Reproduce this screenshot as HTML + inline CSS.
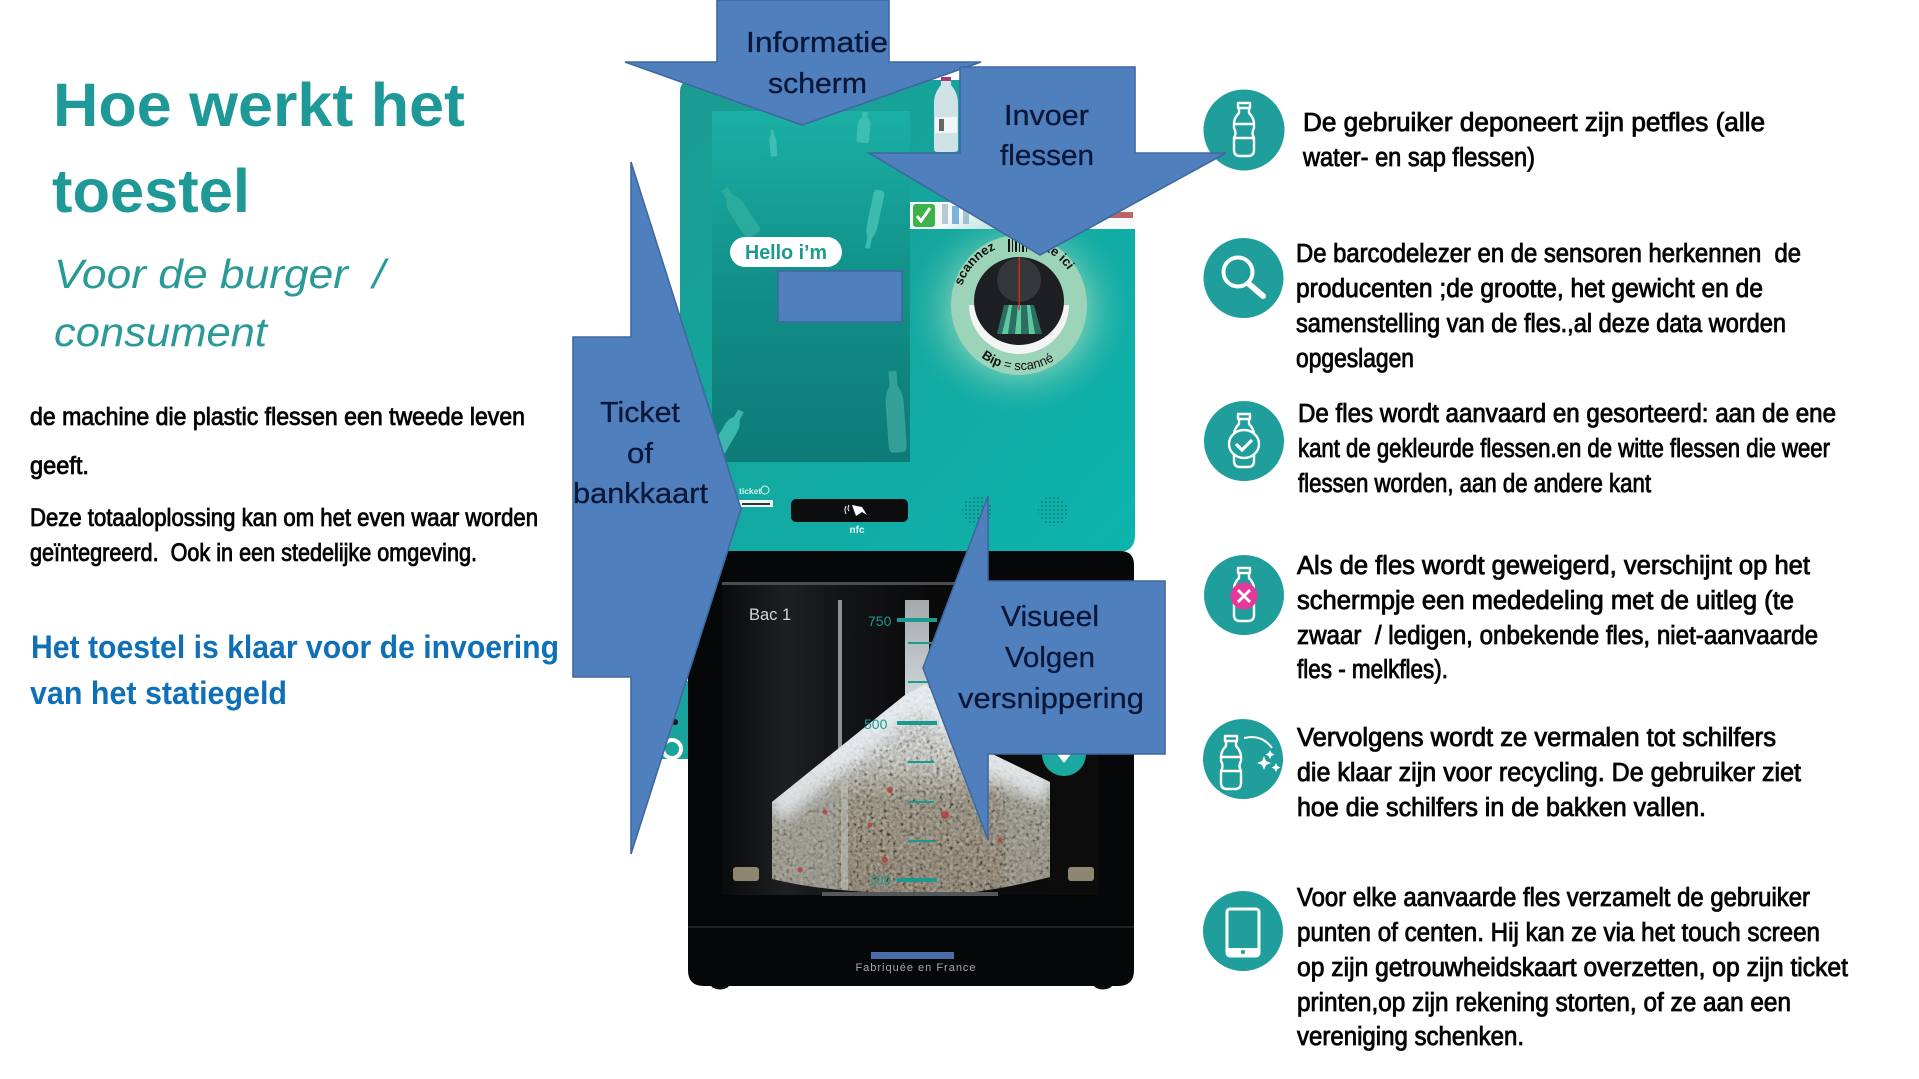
<!DOCTYPE html>
<html lang="nl"><head><meta charset="utf-8"><title>Hoe werkt het toestel</title>
<style>
html,body{margin:0;padding:0;background:#fff;width:1919px;height:1079px;overflow:hidden}
svg{display:block}
text{font-family:"Liberation Sans",sans-serif;white-space:pre}
.t{font-weight:700;font-size:61px;fill:#1f9997}
.s{font-style:italic;font-size:41px;fill:#2a9a98}
.l{font-size:25px;fill:#050505;stroke:#050505;stroke-width:.85}
.h{font-weight:700;font-size:32px;fill:#0f70b7}
.r{font-size:25.5px;fill:#050505;stroke:#050505;stroke-width:.85}
.a{font-size:29px;fill:#0a1738;stroke:#0a1738;stroke-width:.3}
</style></head><body>
<svg width="1919" height="1079" viewBox="0 0 1919 1079" xmlns="http://www.w3.org/2000/svg">
<defs>
<linearGradient id="panel" x1="0" y1="0" x2="1" y2="1"><stop offset="0" stop-color="#1c9a90"/><stop offset=".55" stop-color="#12aaa2"/><stop offset="1" stop-color="#0cb4ae"/></linearGradient>
<linearGradient id="screen" x1="0" y1="0" x2="0" y2="1"><stop offset="0" stop-color="#1ab0a5"/><stop offset=".5" stop-color="#118f88"/><stop offset="1" stop-color="#0d7b77"/></linearGradient>
<radialGradient id="glow" cx=".5" cy=".5" r=".5"><stop offset=".5" stop-color="#9fdcc0" stop-opacity=".7"/><stop offset="1" stop-color="#14a79f" stop-opacity="0"/></radialGradient>
<linearGradient id="pile" x1="0" y1="0" x2="0" y2="1"><stop offset="0" stop-color="#e6eef2"/><stop offset=".35" stop-color="#c3cbcc"/><stop offset=".55" stop-color="#7d7a68"/><stop offset="1" stop-color="#6f6452"/></linearGradient>
<linearGradient id="win" x1="0" y1="0" x2="1" y2="0"><stop offset="0" stop-color="#0a0b0d"/><stop offset=".17" stop-color="#1d1f21"/><stop offset=".3" stop-color="#141517"/><stop offset=".55" stop-color="#0a0a0b"/><stop offset="1" stop-color="#0c0c0d"/></linearGradient>
<linearGradient id="metal" x1="0" y1="0" x2="0" y2="1"><stop offset="0" stop-color="#a4a9ab"/><stop offset="1" stop-color="#d0d7da"/></linearGradient>
<filter id="noise" x="0" y="0" width="100%" height="100%"><feTurbulence type="fractalNoise" baseFrequency=".3" numOctaves="2" seed="7"/><feColorMatrix values="1.3 1.2 0 0 -.75  1.1 1.2 0 0 -.7  .9 1.2 0 0 -.65  0 0 0 0 1"/></filter>
<filter id="soft" x="-20%" y="-20%" width="140%" height="140%"><feGaussianBlur stdDeviation="7"/></filter>
<pattern id="dots" width="4" height="4" patternUnits="userSpaceOnUse"><circle cx="2" cy="2" r="1" fill="#0b7f79"/></pattern>
<clipPath id="pileclip"><path d="M772 802L834 752L905 695L926 684L988 752L1050 782V877Q960 900 911 893Q830 893 772 879Z"/></clipPath>
<g id="bottle" fill="none" stroke="#fff" stroke-width="2.4" stroke-linejoin="round"><path d="M-6-27H6V-22H-6ZM-5-22V-17Q-10-12-10-6V-2Q-7 3-10 8V20Q-10 26-4 26H4Q10 26 10 20V8Q7 3 10-2V-6Q10-12 5-17V-22"/><path d="M-10-6H10M-10 8H10"/></g>
<g id="mini"><path d="M-4-20H4V-12Q9-8 9-2V20Q9 24 5 24H-5Q-9 24-9 20V-2Q-9-8-4-12Z"/></g>
<path id="arc1" d="M962 286A60 60 0 0 1 1076 286"/>
<path id="arc2" d="M975 352A65 65 0 0 0 1065 352"/>
</defs>
<rect width="1919" height="1079" fill="#fff"/>

<!-- Left text -->
<text class="t" x="53" y="126" textLength="412" lengthAdjust="spacingAndGlyphs">Hoe werkt het</text>
<text class="t" x="52" y="212" textLength="198" lengthAdjust="spacingAndGlyphs">toestel</text>
<text class="s" x="54" y="288" textLength="331" lengthAdjust="spacingAndGlyphs">Voor de burger  /</text>
<text class="s" x="54" y="346" textLength="213" lengthAdjust="spacingAndGlyphs">consument</text>
<text class="l" x="30" y="425" textLength="495" lengthAdjust="spacingAndGlyphs">de machine die plastic flessen een tweede leven</text>
<text class="l" x="30" y="474" textLength="59" lengthAdjust="spacingAndGlyphs">geeft.</text>
<text class="l" x="30" y="526" textLength="508" lengthAdjust="spacingAndGlyphs">Deze totaaloplossing kan om het even waar worden</text>
<text class="l" x="30" y="561" textLength="447" lengthAdjust="spacingAndGlyphs">geïntegreerd.  Ook in een stedelijke omgeving.</text>
<text class="h" x="31" y="658" textLength="528" lengthAdjust="spacingAndGlyphs">Het toestel is klaar voor de invoering</text>
<text class="h" x="30" y="704" textLength="257" lengthAdjust="spacingAndGlyphs">van het statiegeld</text>

<!-- Machine: top panel -->
<path d="M680 92Q680 80 692 80H1135V535Q1135 552 1118 552H680Z" fill="url(#panel)"/>
<rect x="712" y="111" width="198" height="351" fill="url(#screen)"/>
<g fill="#45c1b6" opacity=".85">
<use href="#mini" transform="translate(864 126) rotate(5) scale(.7)"/>
<use href="#mini" transform="translate(773 142) rotate(-4) scale(.38 .6)"/>
<use href="#mini" transform="translate(738 210) rotate(-33) scale(.95 1.25)" fill="#2fae9f"/>
<use href="#mini" transform="translate(873 222) rotate(192) scale(.6 1.35)"/>
<use href="#mini" transform="translate(895 408) rotate(-4) scale(1 1.85)" fill="#3aa79e"/>
<use href="#mini" transform="translate(730 430) rotate(30) scale(.8 1.1)"/>
</g>
<g transform="translate(946 115)"><path d="M-5-38H5V-30Q12-22 12-12V34Q12 37 8 37H-8Q-12 37-12 34V-12Q-12-22-5-30Z" fill="#cfe3e6"/><rect x="-5" y="-38" width="10" height="4" fill="#a63a7a"/><rect x="-11" y="2" width="22" height="16" fill="#f2f5f5"/><rect x="-7" y="4" width="5" height="12" fill="#666"/></g>
<rect x="730" y="237" width="112" height="30" rx="15" fill="#fff"/>
<text x="786" y="259" font-size="20" font-weight="700" fill="#1c9a90" text-anchor="middle" textLength="82" lengthAdjust="spacingAndGlyphs">Hello i’m</text>

<!-- Sticker strip -->
<rect x="910" y="202" width="225" height="27" fill="#f7f9f9"/>
<rect x="913" y="204" width="22" height="23" rx="3" fill="#3cb24a"/>
<path d="M917 216l4 5 9-13" fill="none" stroke="#fff" stroke-width="3"/>
<rect x="942" y="204" width="6" height="20" fill="#b7c8d3"/><rect x="952" y="206" width="7" height="18" fill="#7db2dc"/><rect x="963" y="208" width="6" height="16" fill="#a9c3d4"/>
<rect x="1105" y="212" width="28" height="6" fill="#b66"/>

<!-- Scanner -->
<ellipse cx="1019" cy="310" rx="118" ry="110" fill="url(#glow)"/>
<ellipse cx="1019" cy="305" rx="68" ry="70" fill="#9bd4b9"/>
<path d="M969 305A50 49 0 0 0 1069 305Z" fill="#f2f5f4"/>
<ellipse cx="1019" cy="301" rx="45" ry="44" fill="#1e1f22"/>
<ellipse cx="1019" cy="280" rx="22" ry="22" fill="#35373a"/>
<path d="M1004 305H1034L1042 334H997Z" fill="#2c6e62"/>
<g fill="#5fc9a4"><path d="M1009 305h3l-4 29h-6z"/><path d="M1018 305h3v29h-6z"/><path d="M1027 305h3l5 29h-6z"/></g>
<rect x="1018.500" y="257" width="1.400" height="53" fill="#d32a2a"/>
<g fill="#111"><rect x="1008" y="239" width="2" height="13"/><rect x="1012" y="239" width="1" height="13"/><rect x="1015" y="239" width="2" height="13"/><rect x="1019" y="239" width="1" height="13"/><rect x="1022" y="239" width="2" height="13"/><rect x="1026" y="239" width="1" height="13"/></g>
<text font-size="13" font-weight="700" fill="#111"><textPath href="#arc1" startOffset="0">scannez</textPath></text>
<text font-size="13" font-weight="700" fill="#111"><textPath href="#arc1" startOffset="84">juste ici</textPath></text>
<text font-size="13" fill="#111"><textPath href="#arc2" startOffset="8"><tspan font-weight="700">Bip</tspan> = scanné</textPath></text>

<!-- Controls -->
<text x="739" y="494" font-size="8.500" font-weight="700" fill="#d9f4ef">ticket</text>
<circle cx="765" cy="490" r="4" fill="none" stroke="#d9f4ef"/>
<rect x="739" y="500" width="34" height="7" fill="#eef7f5"/><rect x="742" y="503" width="28" height="2" fill="#333"/>
<rect x="791" y="499" width="117" height="23" rx="5" fill="#0c0d0e"/>
<path d="M852 505l10 2 5 8-5-3-6 4z" fill="#fff"/><path d="M846 506q-2 4 0 8M849 505q-2 4 0 6" stroke="#fff" fill="none"/>
<text x="857" y="533" font-size="10" font-weight="700" fill="#e8f7f5" text-anchor="middle">nfc</text>
<circle cx="977" cy="511" r="15" fill="url(#dots)"/><circle cx="1053" cy="511" r="15" fill="url(#dots)"/>

<!-- Cabinet -->
<path d="M661 681H688V759H661Z" fill="#19a39b"/>
<circle cx="672" cy="749" r="9" fill="none" stroke="#fff" stroke-width="4"/>
<circle cx="675" cy="722" r="3" fill="#111"/>
<ellipse cx="720" cy="985" rx="9" ry="4.500" fill="#0c0c0c"/><ellipse cx="1103" cy="985" rx="9" ry="4.500" fill="#0c0c0c"/>
<path d="M688 565Q688 551 702 551H1120Q1134 551 1134 565V970Q1134 986 1118 986H704Q688 986 688 970Z" fill="#060708"/>
<line x1="688" y1="927" x2="1134" y2="927" stroke="#2a2b2e" stroke-width="1.400"/>
<rect x="722" y="582" width="377" height="313" fill="url(#win)"/>
<rect x="722" y="582" width="377" height="3" fill="#4a4c4e"/>
<rect x="838" y="600" width="4" height="160" fill="#8e9293"/>
<rect x="905" y="600" width="24" height="100" fill="url(#metal)"/>
<path d="M772 802L834 752L905 695L926 684L988 752L1050 782V877Q960 900 911 893Q830 893 772 879Z" fill="url(#pile)"/>
<g clip-path="url(#pileclip)">
<rect x="770" y="680" width="285" height="220" filter="url(#noise)" opacity=".42"/>
<rect x="772" y="790" width="66" height="100" fill="#aebdc0" opacity=".3"/>
<rect x="1005" y="790" width="50" height="100" fill="#aebdc0" opacity=".22"/>
<path d="M772 808L834 758L905 701L926 690L988 758L1050 788" fill="none" stroke="#e8eff3" stroke-width="34" opacity=".8" filter="url(#soft)"/>
<g fill="#b53a3a" opacity=".8"><circle cx="890" cy="790" r="3"/><circle cx="945" cy="815" r="4"/><circle cx="870" cy="825" r="2.500"/><circle cx="885" cy="860" r="3"/><circle cx="800" cy="870" r="2.500"/><circle cx="1000" cy="840" r="2.500"/><circle cx="825" cy="812" r="2.500"/></g>
<rect x="841" y="780" width="7" height="110" fill="#c5ccc8" opacity=".5"/>
</g>
<rect x="822" y="892" width="176" height="4" fill="#55585a"/>
<g fill="#8f8672"><rect x="733" y="867" width="26" height="14" rx="3"/><rect x="1068" y="867" width="26" height="14" rx="3"/></g>
<text x="749" y="620" font-size="16.500" fill="#d4d6d6">Bac 1</text>
<text x="868" y="626" font-size="14" fill="#1c9a90">750</text><rect x="897" y="618" width="40" height="4" fill="#1c9a90"/>
<text x="864" y="729" font-size="14" fill="#1c9a90">500</text><rect x="897" y="721" width="40" height="4" fill="#1c9a90"/>
<text x="868" y="885" font-size="14" fill="#1c9a90">100</text><rect x="897" y="878" width="40" height="4" fill="#1c9a90"/>
<g fill="#1c9a90"><rect x="908" y="642" width="26" height="2"/><rect x="908" y="681" width="26" height="2"/><rect x="908" y="761" width="26" height="2"/><rect x="908" y="801" width="26" height="2"/><rect x="908" y="840" width="26" height="2"/></g>
<circle cx="1064" cy="754" r="22" fill="#1ba89f"/><path d="M1057 754h14l-7 9z" fill="#fff"/>
<rect x="871" y="952" width="83" height="7" fill="#4a6ea9"/>
<text x="916" y="971" font-size="11" fill="#a4a7a9" letter-spacing="1" text-anchor="middle">Fabriquée en France</text>

<!-- Icons -->
<g fill="#1f9e9c">
<circle cx="1244" cy="130" r="40.500"/><circle cx="1243.500" cy="278" r="40"/><circle cx="1244" cy="441" r="40"/><circle cx="1244" cy="595" r="40"/><circle cx="1243" cy="759" r="40"/><circle cx="1243" cy="931" r="40"/>
</g>
<use href="#bottle" x="1244" y="130"/>
<g fill="none" stroke="#fff" stroke-linecap="round"><circle cx="1238" cy="272" r="14.500" stroke-width="4"/><path d="M1249 284L1263 296" stroke-width="6"/></g>
<use href="#bottle" x="1244" y="441"/>
<ellipse cx="1244" cy="444" rx="15" ry="14" fill="#1f9e9c" stroke="#fff" stroke-width="2.400"/>
<path d="M1236 444l6 6 10-10" fill="none" stroke="#fff" stroke-width="3.200"/>
<use href="#bottle" x="1244" y="595"/>
<circle cx="1244" cy="596" r="13.500" fill="#e4389a"/>
<path d="M1238 590l12 12M1250 590l-12 12" stroke="#fff" stroke-width="3"/>
<use href="#bottle" x="1231" y="763"/>
<path d="M1244 738Q1262 734 1272 748" fill="none" stroke="#fff" stroke-width="2"/>
<g fill="#fff"><path d="M1264 756l2 5 5 2-5 2-2 5-2-5-5-2 5-2z"/><path d="M1276 763l1.500 3 3 1.500-3 1.500-1.500 3-1.500-3-3-1.500 3-1.500z"/><path d="M1270 750l1.500 3 3 1.500-3 1.500-1.500 3-1.500-3-3-1.500 3-1.500z"/></g>
<rect x="1227" y="909" width="32" height="47" rx="3" fill="none" stroke="#fff" stroke-width="3"/>
<rect x="1227" y="948" width="32" height="8" fill="#fff"/><circle cx="1243" cy="952" r="2" fill="#1f9e9c"/>

<!-- Blue shapes -->
<g fill="#4f7fbd" stroke="#3f689e" stroke-width="1.600" stroke-linejoin="miter">
<rect x="778" y="271" width="124" height="51"/>
<path d="M717 0H889V62H981L802 125L625 62H717Z"/>
<path d="M960 67H1135V153H1226L1040 255L869 153H960Z"/>
<path d="M573 337H631V162L741 509L631 854V677H573Z"/>
<path d="M988 581H1165V754H988V840L923 668L988 496Z"/>
</g>
<text class="a" x="746" y="52" textLength="142" lengthAdjust="spacingAndGlyphs">Informatie</text>
<text class="a" x="768" y="93" textLength="99" lengthAdjust="spacingAndGlyphs">scherm</text>
<text class="a" x="1004" y="125" textLength="85" lengthAdjust="spacingAndGlyphs">Invoer</text>
<text class="a" x="1000" y="165" textLength="94" lengthAdjust="spacingAndGlyphs">flessen</text>
<text class="a" x="600" y="422" textLength="80" lengthAdjust="spacingAndGlyphs">Ticket</text>
<text class="a" x="627" y="463" textLength="26" lengthAdjust="spacingAndGlyphs">of</text>
<text class="a" x="573" y="503" textLength="135" lengthAdjust="spacingAndGlyphs">bankkaart</text>
<text class="a" x="1001" y="626" textLength="98" lengthAdjust="spacingAndGlyphs">Visueel</text>
<text class="a" x="1005" y="667" textLength="90" lengthAdjust="spacingAndGlyphs">Volgen</text>
<text class="a" x="958" y="708" textLength="186" lengthAdjust="spacingAndGlyphs">versnippering</text>

<!-- Right text -->
<text class="r" x="1303" y="131" textLength="462" lengthAdjust="spacingAndGlyphs">De gebruiker deponeert zijn petfles (alle</text>
<text class="r" x="1303" y="166" textLength="232" lengthAdjust="spacingAndGlyphs">water- en sap flessen)</text>
<text class="r" x="1296" y="262" textLength="505" lengthAdjust="spacingAndGlyphs">De barcodelezer en de sensoren herkennen  de</text>
<text class="r" x="1296" y="297" textLength="467" lengthAdjust="spacingAndGlyphs">producenten ;de grootte, het gewicht en de</text>
<text class="r" x="1296" y="332" textLength="490" lengthAdjust="spacingAndGlyphs">samenstelling van de fles.,al deze data worden</text>
<text class="r" x="1296" y="367" textLength="118" lengthAdjust="spacingAndGlyphs">opgeslagen</text>
<text class="r" x="1298" y="422" textLength="538" lengthAdjust="spacingAndGlyphs">De fles wordt aanvaard en gesorteerd: aan de ene</text>
<text class="r" x="1298" y="457" textLength="532" lengthAdjust="spacingAndGlyphs">kant de gekleurde flessen.en de witte flessen die weer</text>
<text class="r" x="1298" y="492" textLength="353" lengthAdjust="spacingAndGlyphs">flessen worden, aan de andere kant</text>
<text class="r" x="1297" y="574" textLength="513" lengthAdjust="spacingAndGlyphs">Als de fles wordt geweigerd, verschijnt op het</text>
<text class="r" x="1297" y="609" textLength="497" lengthAdjust="spacingAndGlyphs">schermpje een mededeling met de uitleg (te</text>
<text class="r" x="1297" y="644" textLength="521" lengthAdjust="spacingAndGlyphs">zwaar  / ledigen, onbekende fles, niet-aanvaarde</text>
<text class="r" x="1297" y="678" textLength="151" lengthAdjust="spacingAndGlyphs">fles - melkfles).</text>
<text class="r" x="1297" y="746" textLength="479" lengthAdjust="spacingAndGlyphs">Vervolgens wordt ze vermalen tot schilfers</text>
<text class="r" x="1297" y="781" textLength="504" lengthAdjust="spacingAndGlyphs">die klaar zijn voor recycling. De gebruiker ziet</text>
<text class="r" x="1297" y="816" textLength="409" lengthAdjust="spacingAndGlyphs">hoe die schilfers in de bakken vallen.</text>
<text class="r" x="1297" y="906" textLength="513" lengthAdjust="spacingAndGlyphs">Voor elke aanvaarde fles verzamelt de gebruiker</text>
<text class="r" x="1297" y="941" textLength="523" lengthAdjust="spacingAndGlyphs">punten of centen. Hij kan ze via het touch screen</text>
<text class="r" x="1297" y="976" textLength="551" lengthAdjust="spacingAndGlyphs">op zijn getrouwheidskaart overzetten, op zijn ticket</text>
<text class="r" x="1297" y="1011" textLength="494" lengthAdjust="spacingAndGlyphs">printen,op zijn rekening storten, of ze aan een</text>
<text class="r" x="1297" y="1045" textLength="227" lengthAdjust="spacingAndGlyphs">vereniging schenken.</text>
</svg>
</body></html>
